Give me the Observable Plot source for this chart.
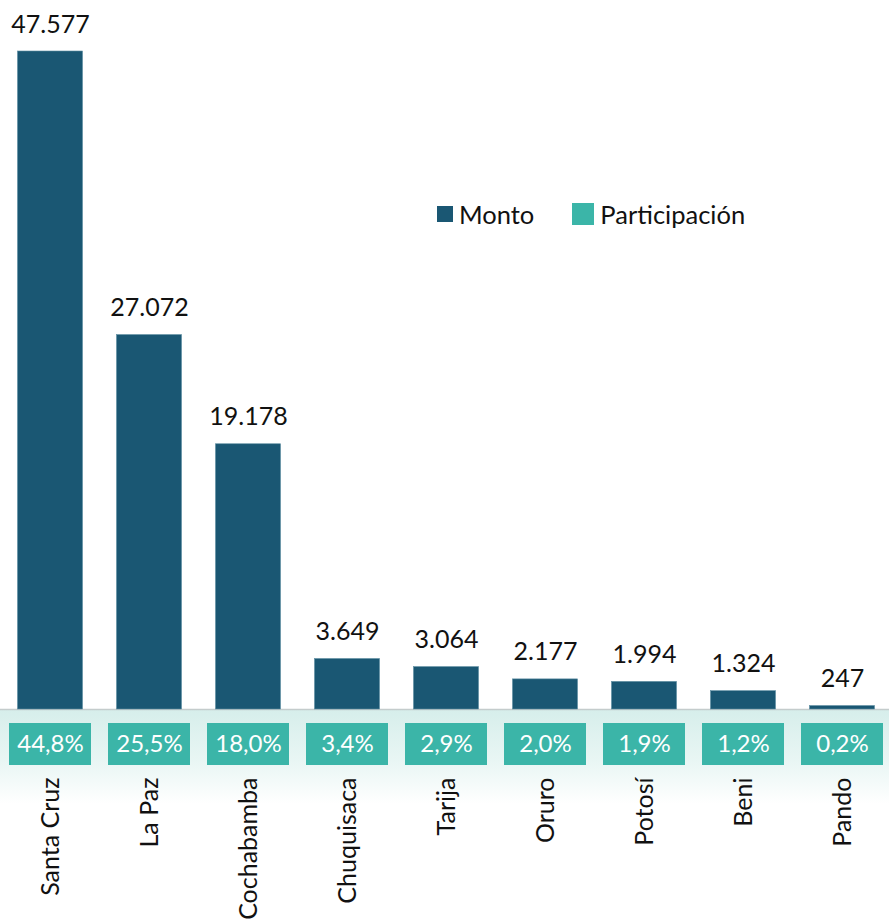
<!DOCTYPE html>
<html>
<head>
<meta charset="utf-8">
<script src="https://cdn.jsdelivr.net/npm/d3@7"></script>
<script src="https://cdn.jsdelivr.net/npm/@observablehq/plot@0.6"></script>
<style>
  html, body { margin: 0; padding: 0; background: #fff; }
  #wrap { position: relative; width: 889px; height: 923px; font-family: Lato, "Open Sans", sans-serif; }
  #legend { position: absolute; left: 437px; top: 199px; display: flex; align-items: center; font-size: 25.5px; color: #111; }
  .sw { display: inline-block; margin-right: 6px; }
</style>
</head>
<body>
<div id="wrap">
  <div id="chart"></div>
  <div id="legend"></div>
</div>
<script>
const departamentos = ["Santa Cruz", "La Paz", "Cochabamba", "Chuquisaca", "Tarija", "Oruro", "Potosí", "Beni", "Pando"];
const montos = [47577, 27072, 19178, 3649, 3064, 2177, 1994, 1324, 247];
const participacion = ["44,8%", "25,5%", "18,0%", "3,4%", "2,9%", "2,0%", "1,9%", "1,2%", "0,2%"];
const valueLabels = ["47.577", "27.072", "19.178", "3.649", "3.064", "2.177", "1.994", "1.324", "247"];
const seriesNames = ["Monto", "Participación"];
const seriesColors = ["#1a5773", "#3bb5a8"];

const data = departamentos.map((d, i) => ({dep: d, monto: montos[i], part: participacion[i], label: valueLabels[i]}));

// pixel layout helpers (style, not data)
const baseY = 709, topY = 51;
const pxPerUnit = (baseY - topY) / montos[0];
const boxTop = -(723 - baseY) / pxPerUnit;
const boxBottom = -(765 - baseY) / pxPerUnit;

const font = "Lato, 'Open Sans', sans-serif";

const chart = Plot.plot({
  width: 889,
  height: 923,
  margin: 0,
  style: {fontFamily: font, background: "transparent"},
  x: {type: "band", domain: departamentos, range: [-1.3, 894.7], paddingInner: 0.167, paddingOuter: 0.0835, axis: null},
  y: {type: "linear", domain: [0, montos[0]], range: [baseY, topY], axis: null},
  marks: [
    // glow band under baseline
    () => {
      const ns = "http://www.w3.org/2000/svg";
      const g = document.createElementNS(ns, "g");
      g.innerHTML = `<defs><linearGradient id="glow" x1="0" y1="0" x2="0" y2="1">
        <stop offset="0" stop-color="#d6eeeb"/>
        <stop offset="0.55" stop-color="#e9f6f4"/>
        <stop offset="1" stop-color="#ffffff"/>
      </linearGradient></defs>
      <rect x="0" y="${baseY}" width="889" height="95" fill="url(#glow)"/>`;
      return g;
    },
    Plot.ruleY([0], {stroke: "#c4cccc", strokeWidth: 1.5}),
    Plot.barY(data, {x: "dep", y: "monto", fill: seriesColors[0], insetLeft: 8.5, insetRight: 8.5, stroke: "#5b8ca0", strokeWidth: 0.6}),
    Plot.text(data, {x: "dep", y: "monto", text: "label", lineAnchor: "bottom", dy: -19, fontSize: 25, fill: "#111"}),
    Plot.rect(data, {x: "dep", y1: () => boxTop, y2: () => boxBottom, fill: seriesColors[1]}),
    Plot.text(data, {x: "dep", y: () => (boxTop + boxBottom) / 2, text: "part", fontSize: 24, fill: "#fff"}),
    Plot.text(data, {x: "dep", y: () => -(777 - baseY) / pxPerUnit, text: "dep", rotate: -90, textAnchor: "end", lineAnchor: "middle", fontSize: 25, fill: "#111"})
  ]
});
document.getElementById("chart").appendChild(chart);

const legend = document.getElementById("legend");
const sizes = [16, 22];
const gaps = [0, 38];
seriesNames.forEach((name, i) => {
  const item = document.createElement("span");
  item.style.display = "inline-flex";
  item.style.alignItems = "center";
  item.style.marginLeft = gaps[i] + "px";
  const sw = document.createElement("span");
  sw.className = "sw";
  sw.style.width = sizes[i] + "px";
  sw.style.height = sizes[i] + "px";
  sw.style.background = seriesColors[i];
  const t = document.createElement("span");
  t.textContent = name;
  item.appendChild(sw);
  item.appendChild(t);
  legend.appendChild(item);
});
</script>
</body>
</html>
